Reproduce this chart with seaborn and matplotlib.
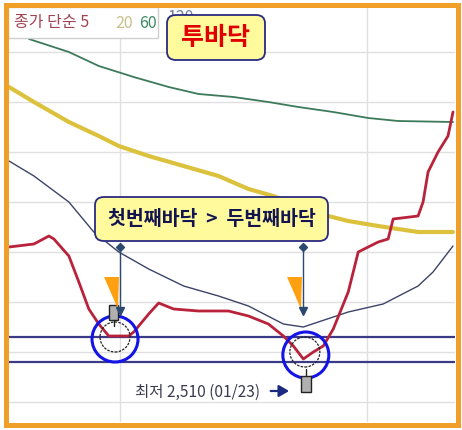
import matplotlib
matplotlib.use('Agg')
import matplotlib.pyplot as plt
import seaborn as sns
import pandas as pd
from matplotlib.patches import Rectangle, FancyBboxPatch, Ellipse, Polygon

sns.set_style('white')
plt.rcParams['font.family'] = ['Noto Sans CJK KR', 'DejaVu Sans']

# 이동평균선 값 (일자, 가격)
ma5_days = [0, 5, 8, 9, 12, 14, 16, 18, 20, 24, 25, 28, 30, 33, 38, 44, 48, 52, 55, 57,
            59, 61, 63, 65, 68, 70, 72, 74, 76, 77, 82, 83, 84, 86, 88, 89]
ma5 = [2740, 2746, 2762, 2756, 2722, 2670, 2616, 2586, 2562, 2562, 2570, 2606, 2628, 2616,
       2612, 2612, 2602, 2586, 2562, 2542, 2516, 2530, 2542, 2576, 2650, 2730, 2740, 2750,
       2756, 2796, 2802, 2830, 2890, 2930, 2962, 3010]

ma20_days = [0, 5, 12, 18, 22, 28, 35, 42, 48, 53, 58, 64, 68, 74, 78, 82, 89]
ma20 = [3060, 3030, 2990, 2962, 2942, 2922, 2902, 2882, 2856, 2842, 2822, 2802, 2792,
        2782, 2776, 2770, 2770]

ma60_days = [4, 12, 18, 25, 32, 38, 45, 52, 58, 65, 72, 78, 89]
ma60 = [3156, 3130, 3102, 3080, 3060, 3046, 3040, 3030, 3020, 3010, 2998, 2992, 2990]

ma120_days = [0, 5, 12, 17, 22, 28, 35, 42, 48, 55, 59, 62, 68, 75, 82, 85, 89]
ma120 = [2912, 2882, 2830, 2770, 2730, 2696, 2662, 2642, 2622, 2586, 2580, 2590, 2610,
         2626, 2662, 2690, 2742]

support_levels = [2560, 2510]
grid_prices = [2430, 2530, 2630, 2730, 2830, 2930, 3030, 3130]
month_lines = [22.2, 71.8]

bottoms = [(21.25, 2556), (59.5, 2524)]
low_label = '최저 2,510 (01/23)'

W, H = 462, 431
fig = plt.figure(figsize=(W / 100, H / 100), dpi=100)
ax = fig.add_axes([8 / W, 8 / H, 447 / W, 415 / H])
ax.set_xlim(-0.2, 89.4)
ax.set_ylim(2390, 3220)
PPD = 447 / 89.6      # px per day
PPP = 0.5             # px per price unit

for s in ax.spines.values():
    s.set_visible(False)
ax.set_xticks([])
ax.set_yticks([])

for g in grid_prices:
    ax.axhline(g, color='#e0e0e0', lw=1, zorder=0)
for m in month_lines:
    ax.axvline(m, color='#e0e0e0', lw=1, zorder=0)
for s in support_levels:
    ax.axhline(s, color='#3a3a86', lw=1.6, zorder=1)

series = [
    (ma60_days, ma60, '#3d7a5c', 1.3),
    (ma20_days, ma20, '#dcc23c', 3.0),
    (ma120_days, ma120, '#3c4468', 1.0),
    (ma5_days, ma5, '#b8223a', 2.0),
]
for d, v, c, lw in series:
    df = pd.DataFrame({'day': d, 'price': v})
    sns.lineplot(data=df, x='day', y='price', ax=ax, color=c, lw=lw, sort=False, zorder=3)
ax.set_xlabel('')
ax.set_ylabel('')

# 바닥 표시 (원, 돋보기)
for bx, by in bottoms:
    ax.add_patch(Ellipse((bx, by), 46 / PPD, 46 / PPP, fill=False, ec='#1414e6', lw=2.2, zorder=6))
ax.add_patch(Ellipse((bottoms[0][0], bottoms[0][1] + 4), 30 / PPD, 30 / PPP, fill=False,
                     ec='#222222', lw=0.9, ls=(0, (2, 1)), zorder=5))
ax.add_patch(Ellipse((bottoms[1][0] - 0.2, bottoms[1][1] + 6), 30 / PPD, 30 / PPP, fill=False,
                     ec='#222222', lw=0.9, ls=(0, (2, 1)), zorder=5))

# 돋보기 손잡이
h1x, h1y = bottoms[0][0] - 0.25, bottoms[0][1] + 38
ax.add_patch(Rectangle((h1x - 0.9, h1y), 1.8, 30, fc='#b0b0b0', ec='#222222', lw=1, zorder=6))
ax.plot([h1x, h1x], [h1y, h1y - 12], color='#222222', lw=1, zorder=6)
h2x, h2y = bottoms[1][0], bottoms[1][1] - 74
ax.add_patch(Rectangle((h2x - 1.0, h2y), 2.0, 32, fc='#b0b0b0', ec='#222222', lw=1, zorder=6))
ax.plot([h2x, h2x], [h2y + 32, h2y + 46], color='#222222', lw=1, zorder=6)

# 연결선 + 주황 삼각형
for cx in [22.25, 58.93]:
    ax.plot([cx, cx], [2740, 2612], color='#2c4a70', lw=1, zorder=7)
    ax.plot([cx], [2740], marker='D', ms=4, color='#2c4a70', zorder=7)
    ax.plot([cx], [2612], marker='v', ms=6, color='#2c4a70', zorder=7)
    ax.add_patch(Polygon([(cx - 3.2, 2680), (cx - 0.2, 2680), (cx - 0.4, 2616)],
                         closed=True, fc='#ffa010', ec='none', zorder=6))

ax.text(25.26, 2452, low_label, fontsize=11.2, color='#3a3a50', ha='left', va='center', zorder=8)
ax.annotate('', xy=(56.7, 2452), xytext=(51.9, 2452),
            arrowprops=dict(arrowstyle='-|>,head_length=0.6,head_width=0.35', color='#1a2a80', lw=1.6),
            zorder=8)

# 범례 박스
ax.text(160 / 447, 1 - 10 / 415, '120', transform=ax.transAxes, fontsize=11.5,
        color='#7080a0', ha='left', va='center', zorder=7)
ax.add_patch(Rectangle((0, 1 - 31 / 415), 150 / 447, 31 / 415, transform=ax.transAxes,
                       fc='white', ec='#d0d0d0', lw=1, zorder=8))
ax.text(6 / 447, 1 - 15 / 415, '종가 단순 5', transform=ax.transAxes, fontsize=11.5,
        color='#a04454', ha='left', va='center', zorder=9)
ax.text(107 / 447, 1 - 15 / 415, '20', transform=ax.transAxes, fontsize=11.5,
        color='#c8c08a', ha='left', va='center', zorder=9)
ax.text(131 / 447, 1 - 15 / 415, '60', transform=ax.transAxes, fontsize=11.5,
        color='#3a8a60', ha='left', va='center', zorder=9)


def label_box(x0, y0, x1, y1, text, color, size):
    ax0, ay0 = (x0 - 8) / 447, 1 - (y1 - 8) / 415
    w, h = (x1 - x0) / 447, (y1 - y0) / 415
    ax.add_patch(FancyBboxPatch((ax0, ay0), w, h, transform=ax.transAxes,
                                boxstyle='round,pad=0,rounding_size=0.02',
                                fc='#fffa9c', ec='#2a2a80', lw=1.3, zorder=10))
    ax.text(ax0 + w / 2, ay0 + h / 2, text, transform=ax.transAxes, fontsize=size,
            color=color, ha='center', va='center', fontweight='bold', zorder=11)


label_box(167, 16, 265, 61, '투바닥', '#e00000', 18)
label_box(95, 198, 328, 242, '첫번째바닥  >  두번째바닥', '#141450', 14)

fig.add_artist(Rectangle((5.5 / W, 1 - 425.5 / H), 452 / W, 420 / H, transform=fig.transFigure,
                         fill=False, ec='#f0a028', lw=3.6, zorder=20))

fig.savefig('out.png', dpi=100, facecolor='white')
